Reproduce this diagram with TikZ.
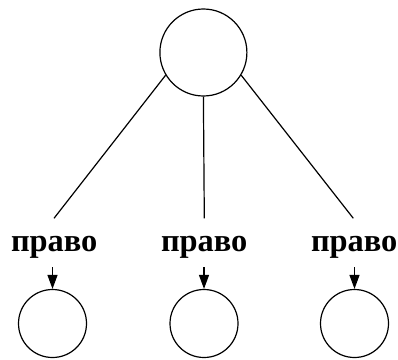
\documentclass[tikz,border=0pt]{standalone}
\usepackage{fontspec}
\setmainfont{Liberation Serif}
\usetikzlibrary{arrows.meta}

\tikzset{
  vertex/.style={circle,draw=black,line width=1.2pt,inner sep=0pt},
  rootvertex/.style={vertex,minimum size=87pt},
  leafvertex/.style={vertex,minimum size=68pt},
  edgelabel/.style={inner sep=0pt,anchor=base,font=\fontsize{32.4}{33}\selectfont\bfseries},
  branch/.style={draw=black,line width=1.2pt},
  down/.style={branch,-{Triangle[length=14pt,width=10pt]},shorten <=9pt}
}

\begin{document}
\begin{tikzpicture}[x=1pt,y=-1pt]
\useasboundingbox (0,0) rectangle (398,359);
						\node (root)[rootvertex] at (203.4,52.5){};
						% labels on the branches
						\node (lab1)[edgelabel] at (54.2,251){право};
						\node (lab2)[edgelabel] at (204.2,251){право};
						\node (lab3)[edgelabel] at (354.2,251){право};
						\coordinate (end1) at (54,218.3);
						\coordinate (end2) at (204.3,218.3);
						\coordinate (end3) at (353.3,218.3);
						% children
						\node (leaf1)[leafvertex] at (52.5,323.5){};
						\node (leaf2)[leafvertex] at (204,323.5){};
						\node (leaf3)[leafvertex] at (354.5,323.5){};
						\draw[branch] (root.211) -- (end1);
						\draw[branch] (root.south) -- (end2);
						\draw[branch] (root.329) -- (end3);
						\draw[down] (leaf1.north |- lab1.south) -- (leaf1.north);
						\draw[down] (leaf2.north |- lab2.south) -- (leaf2.north);
						\draw[down] (leaf3.north |- lab3.south) -- (leaf3.north);
					\end{tikzpicture}
\end{document}
